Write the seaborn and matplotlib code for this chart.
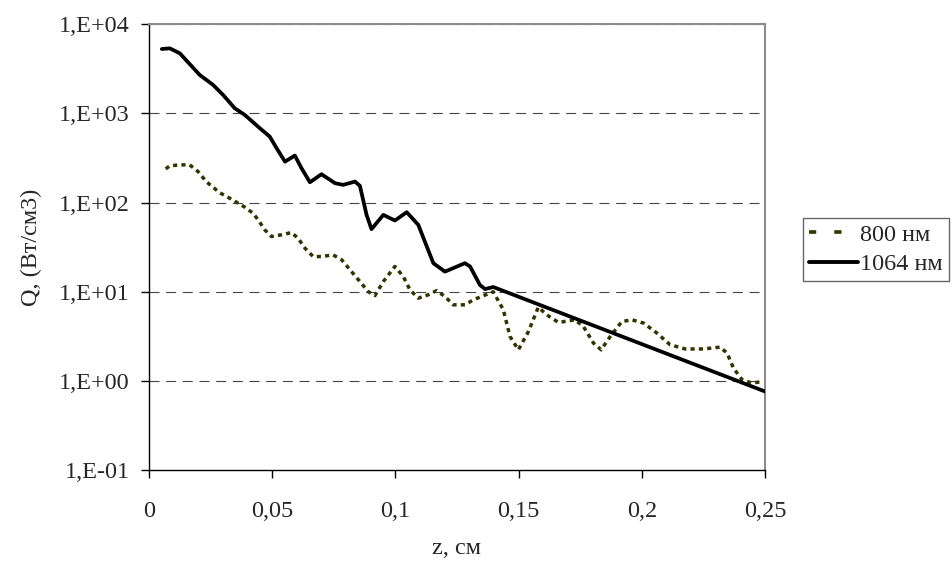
import numpy as np
import pandas as pd
import matplotlib
matplotlib.use("Agg")
import matplotlib.pyplot as plt
import seaborn as sns
from matplotlib.lines import Line2D
from matplotlib.ticker import FixedLocator, FixedFormatter, NullLocator

# 800 nm curve
z_800 = [0.0068, 0.0084, 0.0125, 0.0165, 0.0199, 0.0233, 0.0287, 0.0335, 0.0389,
         0.0422, 0.0443, 0.0470, 0.0497, 0.0538, 0.0578, 0.0605, 0.0633, 0.0666,
         0.0700, 0.0747, 0.0782, 0.0822, 0.0856, 0.0890, 0.0917, 0.0951, 0.0998,
         0.1032, 0.1059, 0.1093, 0.1133, 0.1168, 0.1201, 0.1235, 0.1283, 0.1316,
         0.1397, 0.1438, 0.1465, 0.1499, 0.1540, 0.1580, 0.1614, 0.1662, 0.1729,
         0.1763, 0.1804, 0.1835, 0.1872, 0.1919, 0.1960, 0.2007, 0.2061, 0.2115,
         0.2176, 0.2251, 0.2318, 0.2346, 0.2372, 0.2407, 0.2447, 0.2488]
q_800 = [239, 258, 265, 265, 223, 171, 129, 109, 88.8,
         76, 64, 49.4, 41.6, 43.5, 46.1, 39.9, 30.8, 24.8,
         24.8, 25.9, 22.8, 16.8, 13.0, 10.0, 9.06, 13.0, 19.2,
         14.8, 10.5, 8.47, 9.23, 10.3, 8.83, 7.13, 7.13, 8.11,
         10.0, 6.27, 3.15, 2.23, 3.58, 6.71, 5.51, 4.52, 4.84,
         4.07, 2.65, 2.23, 3.15, 4.63, 4.84, 4.45, 3.44, 2.54,
         2.28, 2.28, 2.39, 2.05, 1.39, 1.03, 0.944, 0.98]

# 1064 nm curve
z_1064 = [0.0052, 0.0084, 0.0125, 0.0206, 0.0260, 0.0301, 0.0348, 0.0389, 0.0450,
          0.0490, 0.0518, 0.0552, 0.0592, 0.0619, 0.0653, 0.0700, 0.0755, 0.0788,
          0.0836, 0.0856, 0.0883, 0.0903, 0.0951, 0.0998, 0.1046, 0.1093, 0.1154,
          0.1201, 0.1282, 0.1303, 0.1343, 0.1364, 0.1397, 0.2500]
q_1064 = [5280, 5380, 4730, 2700, 2090, 1610, 1143, 961, 682,
          550, 407, 288, 337, 243, 169, 208, 165, 158,
          172, 154, 72.8, 50.3, 72.8, 62.9, 78, 56.2, 20.9,
          16.8, 20.9, 19.2, 11.9, 10.7, 11.3, 0.76]

y_ticks = [0.1, 1, 10, 100, 1000, 10000]
y_labels = ["1,E-01", "1,E+00", "1,E+01", "1,E+02", "1,E+03", "1,E+04"]
x_ticks = [0, 0.05, 0.1, 0.15, 0.2, 0.25]
x_labels = ["0", "0,05", "0,1", "0,15", "0,2", "0,25"]

sns.set_style("white")
plt.rcParams["font.family"] = ["Liberation Serif", "DejaVu Serif"]
FS = 17.5

fig = plt.figure(figsize=(9.53, 5.65), dpi=100)
ax = fig.add_axes([149 / 953, 1 - 470 / 565, (765 - 149) / 953, (470 - 24.3) / 565])

dotted = (0, (1.2, 1.2))
sns.lineplot(x=z_800, y=q_800, ax=ax, color="#333300", lw=2.5,
             linestyle=dotted, dash_capstyle="butt", dash_joinstyle="round", zorder=3)
sns.lineplot(x=z_1064, y=q_1064, ax=ax, color="black", lw=2.7,
             solid_joinstyle="round", zorder=4)

ax.set_yscale("log")
ax.set_xlim(0, 0.25)
ax.set_ylim(0.1, 10000)
ax.yaxis.set_major_locator(FixedLocator(y_ticks))
ax.yaxis.set_major_formatter(FixedFormatter(y_labels))
ax.yaxis.set_minor_locator(NullLocator())
ax.set_xticks(x_ticks)
ax.set_xticklabels(x_labels)

for v in y_ticks[1:]:
    ax.axhline(v, color="#444444", lw=0.8, linestyle=(0, (9, 6)), zorder=1)

for s in ["left", "bottom"]:
    ax.spines[s].set_color("black")
    ax.spines[s].set_linewidth(1.0)
for s in ["top", "right"]:
    ax.spines[s].set_color("#8c8c8c")
    ax.spines[s].set_linewidth(1.5)

ax.tick_params(axis="y", direction="out", length=6, width=1, color="black",
               labelsize=FS, pad=8, left=True)
ax.tick_params(axis="x", direction="out", length=6, width=1, color="black",
               labelsize=FS, pad=16, bottom=True)

ax.set_xlabel("z, см", fontsize=FS, labelpad=12)
ax.set_ylabel("Q, (Вт/см3)", fontsize=FS, labelpad=12)

handles = [Line2D([], [], color="#333300", lw=2.6, linestyle=(0, (2, 5)), dash_capstyle="butt"),
           Line2D([], [], color="black", lw=2.8)]
leg = fig.legend(handles, ["800 нм", "1064 нм"], loc="center left",
                 bbox_to_anchor=(803 / 953, 1 - 249.5 / 565), bbox_transform=fig.transFigure,
                 fontsize=FS, frameon=True, fancybox=False, framealpha=1,
                 edgecolor="#666666", handlelength=2.0, handletextpad=0.1,
                 borderpad=0.25, labelspacing=0.3, borderaxespad=0)
leg.get_frame().set_linewidth(1.0)

fig.savefig("out.png", dpi=100)
